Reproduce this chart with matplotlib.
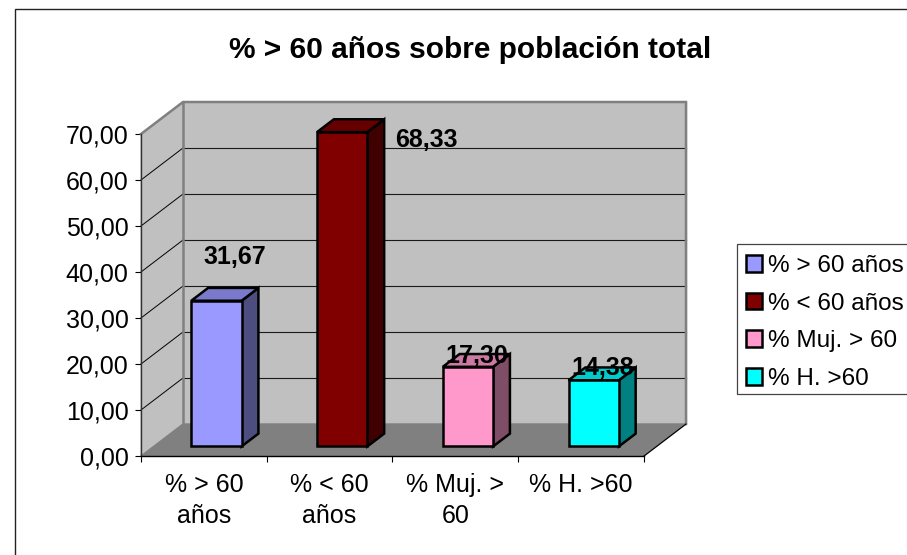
# % > 60 años chart, flat axes with the depth drawn by hand (excel style 3d columns)

import matplotlib

matplotlib.use("Agg")
import matplotlib.pyplot as plt
from matplotlib.patches import Patch, Rectangle

categories = ["% > 60\naños", "% < 60\naños", "% Muj. >\n60", "% H. >60"]
legend_names = ["% > 60 años", "% < 60 años", "% Muj. > 60", "% H. >60"]
values = [31.67, 68.33, 17.30, 14.38]
value_labels = ["31,67", "68,33", "17,30", "14,38"]
y_ticks = [0, 10, 20, 30, 40, 50, 60, 70]
y_tick_labels = ["0,00", "10,00", "20,00", "30,00", "40,00", "50,00", "60,00", "70,00"]

# colours of each bar: front, side, top
front_colors = ["#9999FF", "#800000", "#FF99CC", "#00FFFF"]
side_colors = ["#4D4D80", "#400000", "#804D66", "#008080"]
top_colors = ["#7A7ACC", "#660000", "#CC7AA3", "#00CCCC"]

# moved by hand in the original, in pixels from the bar top
label_offsets = [(18, 44), (84, -8), (9, 11), (9, 12)]

W, H = 907, 555
DEPTH_X = 42 / 125.75  # depth of the box in category units
DEPTH_Y = 32 / 4.6  # depth of the box in value units
BAR_WIDTH = 0.4
BAR_START = 0.3  # bars stand between 0.3 and 0.7 of the depth
BAR_DEPTH = 0.4
EDGE = 1.8

plt.rcParams["font.family"] = ["Liberation Sans", "DejaVu Sans"]

fig = plt.figure(figsize=(W / 100, H / 100), dpi=100)
ax = fig.add_axes([141 / W, (H - 456) / H, 503 / W, 322 / H])
ax.set_xlim(0, 4)
ax.set_ylim(0, 70)
ax.patch.set_visible(False)

# outer chart border, only left and top are inside the picture
fig.add_artist(
    Rectangle(
        (14.5 / W, -0.1),
        1.1,
        1.1 - 8.5 / H,
        transform=fig.transFigure,
        fill=False,
        edgecolor="#222222",
        linewidth=1,
    )
)

# walls and floor
top = y_ticks[-1]
ax.fill(
    [DEPTH_X, 4 + DEPTH_X, 4 + DEPTH_X, DEPTH_X],
    [DEPTH_Y, DEPTH_Y, top + DEPTH_Y, top + DEPTH_Y],
    color="#C0C0C0",
    clip_on=False,
    zorder=1,
)
ax.fill(
    [0, DEPTH_X, DEPTH_X, 0],
    [0, DEPTH_Y, top + DEPTH_Y, top],
    color="#C0C0C0",
    clip_on=False,
    zorder=1,
)
ax.fill(
    [0, 4, 4 + DEPTH_X, DEPTH_X],
    [0, 0, DEPTH_Y, DEPTH_Y],
    color="#808080",
    clip_on=False,
    zorder=1,
)

# grid lines on the back and the left wall
for tick in y_ticks[1:-1]:
    ax.plot([0, DEPTH_X], [tick, tick + DEPTH_Y], color="black", lw=0.7, clip_on=False, zorder=2)
    ax.plot(
        [DEPTH_X, 4 + DEPTH_X],
        [tick + DEPTH_Y, tick + DEPTH_Y],
        color="#1A1A1A",
        lw=0.8,
        clip_on=False,
        zorder=2,
    )

# grey frame of the walls
ax.plot(
    [0, DEPTH_X, 4 + DEPTH_X, 4 + DEPTH_X],
    [top, top + DEPTH_Y, top + DEPTH_Y, DEPTH_Y],
    color="#808080",
    lw=1.8,
    clip_on=False,
    solid_joinstyle="miter",
    zorder=2,
)
ax.plot([DEPTH_X, DEPTH_X], [DEPTH_Y, top + DEPTH_Y], color="#808080", lw=1.8, clip_on=False, zorder=2)
ax.plot([4, 4 + DEPTH_X], [0, DEPTH_Y], color="black", lw=0.8, clip_on=False, zorder=2)

# bars
centers = [i + 0.5 + BAR_START * DEPTH_X for i in range(len(values))]
base = BAR_START * DEPTH_Y
bar_dx = BAR_DEPTH * DEPTH_X
bar_dy = BAR_DEPTH * DEPTH_Y
ax.bar(
    centers,
    values,
    width=BAR_WIDTH,
    bottom=base,
    color=front_colors,
    edgecolor="black",
    linewidth=EDGE,
    clip_on=False,
    zorder=4,
)
for i, value in enumerate(values):
    right = centers[i] + BAR_WIDTH / 2
    left = centers[i] - BAR_WIDTH / 2
    ax.fill(
        [right, right + bar_dx, right + bar_dx, right],
        [base, base + bar_dy, base + value + bar_dy, base + value],
        facecolor=side_colors[i],
        edgecolor="black",
        linewidth=EDGE,
        clip_on=False,
        zorder=3,
    )
    ax.fill(
        [left, right, right + bar_dx, left + bar_dx],
        [base + value, base + value, base + value + bar_dy, base + value + bar_dy],
        facecolor=top_colors[i],
        edgecolor="black",
        linewidth=EDGE,
        clip_on=False,
        zorder=3,
    )
    ax.annotate(
        value_labels[i],
        (centers[i], base + value),
        xytext=label_offsets[i],
        textcoords="offset pixels",
        ha="center",
        va="center",
        fontsize=18,
        fontweight="bold",
        color="black",
        annotation_clip=False,
        zorder=6,
    )

# axes
for side in ["top", "right"]:
    ax.spines[side].set_visible(False)
ax.spines["left"].set_color("#333333")
ax.spines["bottom"].set_color("black")
ax.spines["left"].set_linewidth(1)
ax.spines["bottom"].set_linewidth(1)
ax.set_yticks(y_ticks)
ax.set_yticklabels(y_tick_labels, fontsize=18)
ax.tick_params(axis="y", length=4.5, width=0.8, pad=4.5)
ax.set_xticks(range(5))
ax.set_xticklabels([""] * 5)
ax.set_xticks([i + 0.5 for i in range(4)], minor=True)
ax.set_xticklabels(categories, minor=True, fontsize=18, linespacing=1.36)
ax.tick_params(axis="x", which="minor", length=0, pad=12)
ax.tick_params(axis="x", which="major", length=4.5, width=0.8)

fig.text(470 / W, 1 - 50.5 / H, "% > 60 años sobre población total", ha="center", va="center",
         fontsize=21.5, fontweight="bold")

# legend box runs past the right edge of the picture
fig.add_artist(
    Rectangle(
        (737 / W, (H - 394) / H),
        200 / W,
        150 / H,
        transform=fig.transFigure,
        facecolor="white",
        edgecolor="#444444",
        linewidth=0.9,
    )
)
handles = [Patch(facecolor=c, edgecolor="black", linewidth=EDGE) for c in front_colors]
legend = fig.legend(
    handles,
    legend_names,
    loc="lower left",
    bbox_to_anchor=(737 / W, (H - 398.5) / H, 200 / W, 150 / H),
    mode="expand",
    borderaxespad=0,
    fontsize=17.5,
    frameon=False,
    handlelength=0.68,
    handleheight=0.68,
    handletextpad=0.24,
    labelspacing=0.64,
    borderpad=0.36,
)

fig.savefig("out.png", dpi=100)
